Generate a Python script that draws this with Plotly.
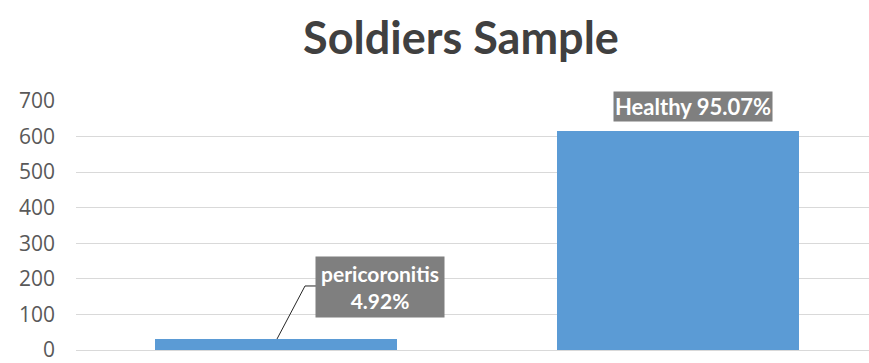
import plotly.graph_objects as go

categories = ["pericoronitis", "Healthy"]
counts = [31, 615]
label_texts = ["pericoronitis<br>4.92%", "Healthy 95.07%"]
y_ticks = [0, 100, 200, 300, 400, 500, 600, 700]

BAR = "#5b9bd5"
LBL_BG = "#7f7f7f"

fig = go.Figure()
fig.add_trace(go.Bar(
    x=[0, 1], y=counts, width=0.604,
    marker=dict(color=BAR, line=dict(width=0)),
    hoverinfo="skip", showlegend=False,
))

# pericoronitis label with leader line
fig.add_annotation(
    x=0, y=counts[0], xref="x", yref="y",
    text="<b>" + label_texts[0] + "</b>",
    font=dict(family="Lato", size=21, color="white"),
    bgcolor=LBL_BG, borderpad=2, align="center",
    width=124, height=56,
    showarrow=False, xanchor="center", yanchor="middle",
    xshift=104, yshift=52,
)
fig.add_shape(
    type="path", xref="x", yref="y",
    xsizemode="pixel", ysizemode="pixel",
    xanchor=0, yanchor=counts[0],
    path="M1,0 L29,53 L41,53",
    line=dict(color="#262626", width=1),
)
# Healthy label
fig.add_annotation(
    x=1, y=counts[1], xref="x", yref="y",
    text="<b>" + label_texts[1] + "</b>",
    font=dict(family="Lato", size=22, color="white"),
    bgcolor=LBL_BG, borderpad=1,
    showarrow=False, xanchor="center", yanchor="bottom",
    xshift=15, yshift=9,
)

fig.update_layout(
    width=869, height=363,
    margin=dict(l=76, r=0, t=101, b=10),
    paper_bgcolor="white", plot_bgcolor="white",
    title=dict(
        text="<b>Soldiers Sample</b>",
        font=dict(family="Lato", size=45, color="#404040"),
        x=461 / 869, xanchor="center", xref="container",
        y=1 - 38 / 363, yanchor="middle", yref="container",
    ),
    xaxis=dict(range=[-0.4975, 1.475], showticklabels=False, showgrid=False,
               zeroline=False, showline=False, ticks=""),
    yaxis=dict(range=[0, 700], tickvals=y_ticks, showgrid=True,
               gridcolor="#d9d9d9", gridwidth=1,
               zeroline=True, zerolinecolor="#d9d9d9", zerolinewidth=1,
               showline=False, ticks="",
               tickfont=dict(family="Open Sans", size=21, color="#595959"),
               ticklabelstandoff=20, ticklabeloverflow="allow"),
    bargap=0,
)
fig.write_html("out.html")
